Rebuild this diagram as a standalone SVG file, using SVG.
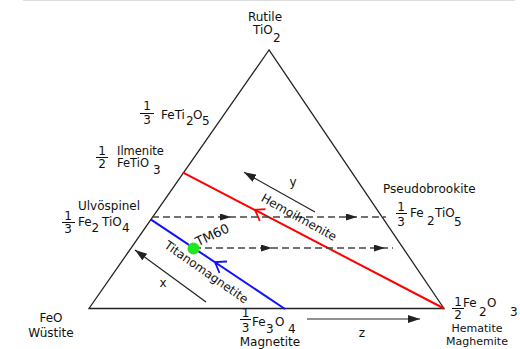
<svg xmlns="http://www.w3.org/2000/svg" width="520" height="349" viewBox="0 0 520 349">
<style>
text{font-family:"DejaVu Sans","Liberation Sans",sans-serif;font-size:12px;fill:#111}
.m{text-anchor:middle}
.s{font-size:11.5px}
.tri{fill:none;stroke:#222;stroke-width:1.3}
.dash{fill:none;stroke:#444;stroke-width:1.3;stroke-dasharray:7 4}
.arr{fill:none;stroke:#222;stroke-width:1.2}
.bar{stroke:#111;stroke-width:1}
</style>
<defs>
<marker id="ah" markerUnits="userSpaceOnUse" viewBox="0 0 12 8" refX="12" refY="4" markerWidth="12" markerHeight="8" orient="auto">
<path d="M0 0 L12 4 L0 8 Z" fill="#222"/>
</marker>
<marker id="dh" markerUnits="userSpaceOnUse" viewBox="0 0 11 7" refX="11" refY="3.5" markerWidth="11" markerHeight="7" orient="auto">
<path d="M0 0 L11 3.5 L0 7 Z" fill="#222"/>
</marker>
</defs>
<rect width="520" height="349" fill="#fff"/>
<line x1="23" y1="0.5" x2="515" y2="0.5" stroke="#ddd" stroke-width="1"/>

<g id="triangle">
<path class="tri" d="M269 50 L89 308.5 L444 308.5 Z"/>
</g>

<g id="connectors">
<path id="hemoilmenite-line" d="M182.7 172.3 L444 308.5" stroke="#ff0000" stroke-width="2" fill="none"/>
<path d="M265.5 209.2 L255 209.8 L259.8 221" stroke="#ff0000" stroke-width="1.8" fill="none"/>
<path id="titanomagnetite-line" d="M150.7 219.3 L285 309" stroke="#1010ff" stroke-width="2" fill="none"/>
<path d="M227 261.5 L215 262 L219.5 273" stroke="#1010ff" stroke-width="1.8" fill="none"/>
<path class="dash" d="M152 217 H231 H357 H386" marker-mid="url(#dh)"/>
<path class="dash" d="M194 248 H272 H385 H393" marker-mid="url(#dh)"/>
<path id="arrow-x" class="arr" d="M206 302 L135 250" marker-end="url(#ah)"/>
<path id="arrow-y" class="arr" d="M315 212 L244 172.3" marker-end="url(#ah)"/>
<path id="arrow-z" class="arr" d="M307 319 L420 319" marker-end="url(#ah)"/>
</g>

<g id="tm60">
<circle cx="193.5" cy="248.5" r="6" fill="#22e622"/>
<text x="198" y="246.5" transform="rotate(-25 198 246.5)" style="font-size:13px">TM60</text>
</g>

<g id="rutile">
<text class="m" x="265" y="21">Rutile</text>
<text x="253" y="34">TiO</text><text x="273" y="42">2</text>
</g>

<g id="feti2o5">
<text class="m" x="147" y="110">1</text>
<line class="bar" x1="140" y1="113.5" x2="154" y2="113.5"/>
<text class="m" x="147" y="124">3</text>
<text x="161" y="118.5">FeTi</text><text x="186" y="125">2</text><text x="193" y="118.5">O</text><text x="202" y="125">5</text>
</g>

<g id="ilmenite">
<text class="m" x="102" y="155">1</text>
<line class="bar" x1="96" y1="157.5" x2="108" y2="157.5"/>
<text class="m" x="102" y="168">2</text>
<text class="s" x="117" y="154.5">Ilmenite</text>
<text class="s" x="117" y="167">FeTiO</text><text x="153" y="174">3</text>
</g>

<g id="ulvospinel">
<text x="78" y="210">Ulvöspinel</text>
<text class="m" x="68" y="220">1</text>
<line class="bar" x1="62" y1="222.5" x2="75" y2="222.5"/>
<text class="m" x="68" y="233">3</text>
<text x="78" y="226">Fe</text><text x="91.5" y="232">2</text><text x="102" y="226">TiO</text><text x="122" y="232">4</text>
</g>

<g id="pseudobrookite">
<text x="383" y="193">Pseudobrookite</text>
<text class="m" x="401" y="211">1</text>
<line class="bar" x1="396" y1="213.5" x2="407" y2="213.5"/>
<text class="m" x="401" y="226">3</text>
<text x="410" y="217">Fe</text><text x="427" y="225">2</text><text x="435" y="217">TiO</text><text x="454" y="226">5</text>
</g>

<g id="wustite">
<text class="m" x="51" y="322">FeO</text>
<text class="m" x="51" y="337">Wüstite</text>
</g>

<g id="magnetite">
<text class="m" x="245.5" y="317">1</text>
<line class="bar" x1="240" y1="319.5" x2="251" y2="319.5"/>
<text class="m" x="245.5" y="332">3</text>
<text x="252" y="326">Fe</text><text x="266" y="333">3</text><text x="275" y="326">O</text><text x="288" y="333">4</text>
<text class="m" x="270" y="346">Magnetite</text>
</g>

<g id="hematite">
<text class="m" x="458" y="306">1</text>
<line class="bar" x1="452" y1="308.5" x2="464" y2="308.5"/>
<text class="m" x="458" y="319">2</text>
<text x="463" y="307">Fe</text><text x="479" y="316">2</text><text x="487" y="307">O</text><text x="510" y="316">3</text>
<text class="m" x="477" y="331.5" style="font-size:11px">Hematite</text>
<text class="m" x="477" y="344.5" style="font-size:11px">Maghemite</text>
</g>

<g id="labels">
<text class="m" x="204" y="275.5" transform="rotate(35 204 275.5)">Titanomagnetite</text>
<text class="m" x="297" y="221" transform="rotate(29 297 221)">Hemoilmenite</text>
<text class="m" x="163" y="287">x</text>
<text class="m" x="293" y="186">y</text>
<text class="m" x="362" y="337">z</text>
</g>
</svg>
